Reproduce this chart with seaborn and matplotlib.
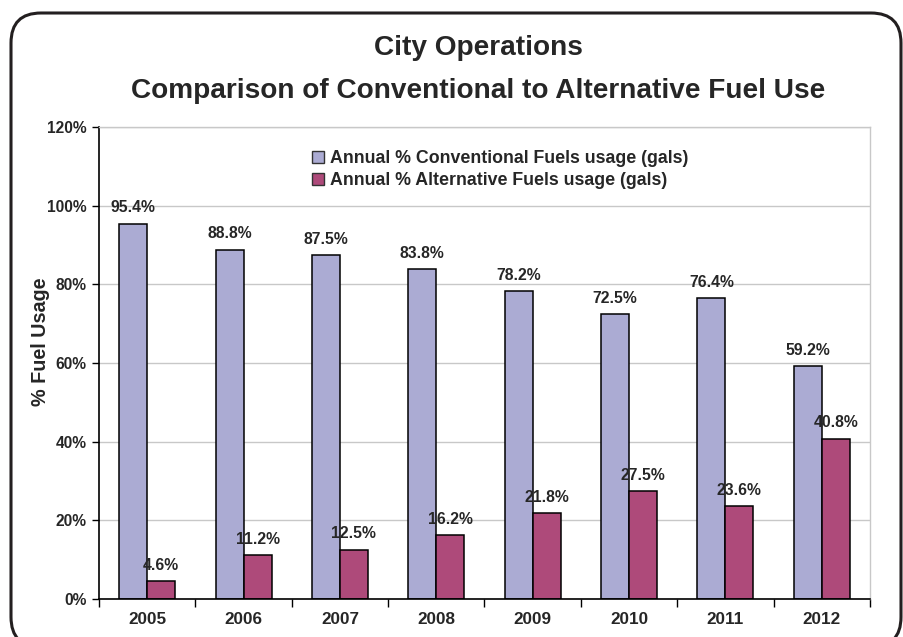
import pandas as pd
import matplotlib
matplotlib.use("Agg")
import matplotlib.pyplot as plt
import seaborn as sns
from matplotlib.patches import FancyBboxPatch, Patch
from matplotlib.transforms import IdentityTransform
from matplotlib.ticker import FixedLocator

years = ["2005", "2006", "2007", "2008", "2009", "2010", "2011", "2012"]
conventional = [95.4, 88.8, 87.5, 83.8, 78.2, 72.5, 76.4, 59.2]
alternative = [4.6, 11.2, 12.5, 16.2, 21.8, 27.5, 23.6, 40.8]
series_names = ["Annual % Conventional Fuels usage (gals)",
                "Annual % Alternative Fuels usage (gals)"]
colors = ["#ABABD3", "#AE4A7A"]

df = pd.DataFrame({
    "year": years * 2,
    "value": conventional + alternative,
    "series": [series_names[0]] * len(years) + [series_names[1]] * len(years),
})

sns.set_style("white")
plt.rcParams["font.family"] = ["Liberation Sans", "DejaVu Sans"]
plt.rcParams["font.weight"] = "bold"

fig = plt.figure(figsize=(9.04, 6.37), dpi=100)
ax = fig.add_axes([99 / 904, 1 - 599 / 637, (870 - 99) / 904, (599 - 127) / 637])

sns.barplot(data=df, x="year", y="value", hue="series", palette=colors,
            edgecolor="black", linewidth=1.1, width=0.58, gap=0,
            saturation=1, ax=ax, legend=False)

# data labels
for cont in ax.containers:
    ax.bar_label(cont, labels=[f"{v:.1f}%" for v in cont.datavalues],
                 padding=6, fontsize=11.3, fontweight="bold")

ax.set_ylim(0, 120)
ax.set_xlim(-0.5, len(years) - 0.5)
ax.set_yticks(range(0, 121, 20))
ax.set_yticklabels([f"{v}%" for v in range(0, 121, 20)], fontsize=11.2, fontweight="bold")
ax.yaxis.grid(True, color="#c8c8c8", linewidth=1)
ax.set_axisbelow(True)

ax.set_xticklabels(years, fontsize=12.3, fontweight="bold")
ax.tick_params(axis="x", which="major", length=0, pad=9)
ax.xaxis.set_minor_locator(FixedLocator([i - 0.5 for i in range(len(years) + 1)]))
ax.tick_params(axis="x", which="minor", bottom=True, length=6, width=1, color="black",
               direction="out")
ax.tick_params(axis="y", left=True, length=5, width=1, color="black", direction="out", pad=4)

ax.set_xlabel("")
ax.set_ylabel("% Fuel Usage", fontsize=14.2, fontweight="bold")
ax.yaxis.set_label_coords(-0.064, 0.545)

for side in ["left", "bottom"]:
    ax.spines[side].set_color("black")
    ax.spines[side].set_linewidth(1.2)
for side in ["top", "right"]:
    ax.spines[side].set_color("#c8c8c8")
    ax.spines[side].set_linewidth(1)

handles = [Patch(facecolor=c, edgecolor="#333333", linewidth=1) for c in colors]
ax.legend(handles, series_names, loc="upper center", bbox_to_anchor=(0.52, 0.985),
          frameon=False, handlelength=0.7, handleheight=0.7,
          handletextpad=0.3, labelspacing=0.3, prop={"weight": "bold", "size": 12.8})

fig.text(478 / 904, 1 - 48 / 637, "City Operations", ha="center", va="center",
         fontsize=20.2, fontweight="bold")
fig.text(478 / 904, 1 - 91 / 637, "Comparison of Conventional to Alternative Fuel Use",
         ha="center", va="center", fontsize=20.2, fontweight="bold")

# rounded outer frame
frame = FancyBboxPatch((11, -10), 890, 637 - 13 + 10,
                       boxstyle="round,pad=0,rounding_size=30",
                       transform=IdentityTransform(), facecolor="none",
                       edgecolor="#231f20", linewidth=2.2, clip_on=False)
fig.add_artist(frame)

fig.savefig("out.png", dpi=100)
